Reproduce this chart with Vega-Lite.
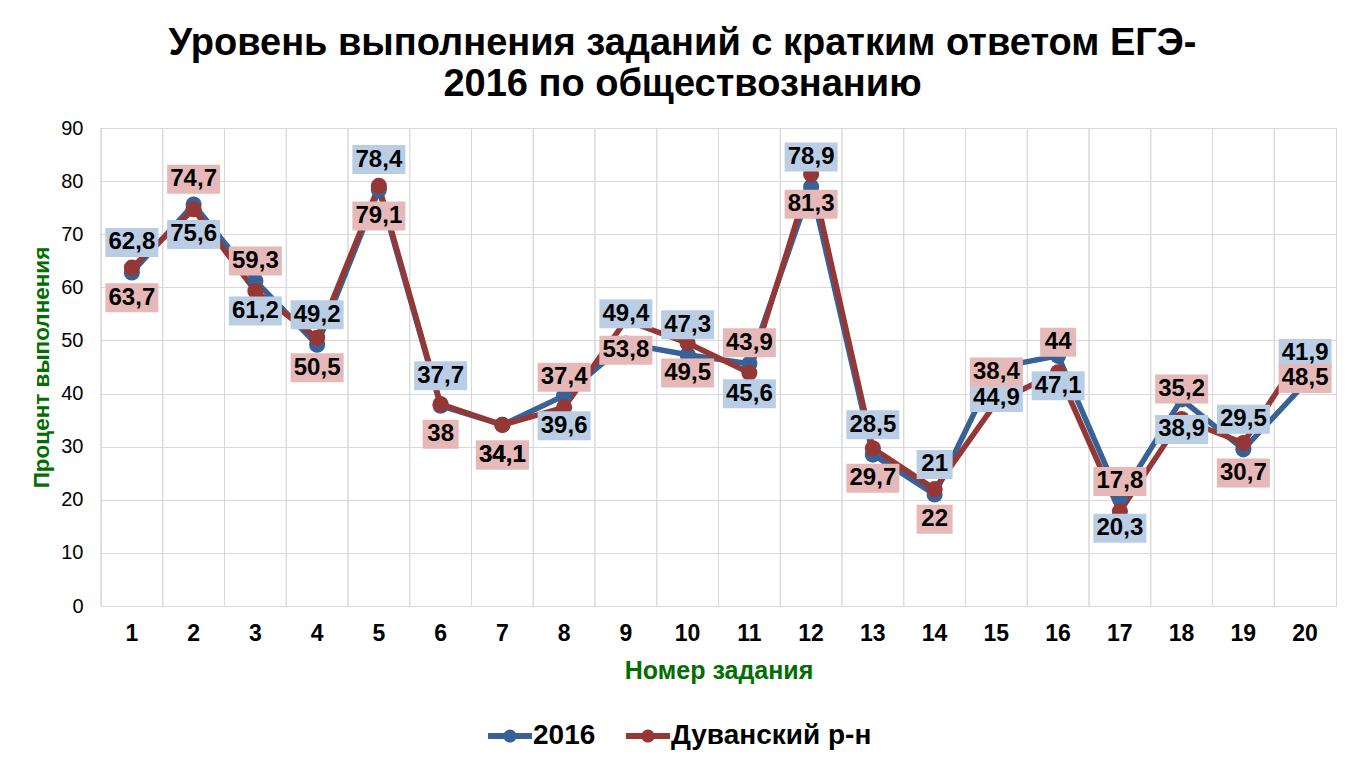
{
  "$schema": "https://vega.github.io/schema/vega-lite/v6.json",
  "autosize": {"type": "none"},
  "width": 1235,
  "height": 478,
  "padding": {"left": 101, "top": 128, "right": 24, "bottom": 164},
  "background": "white",
  "config": {
    "font": "Liberation Sans",
    "view": {"stroke": "#d9d9d9", "strokeWidth": 1}
  },
  "title": {
    "text": ["Уровень выполнения заданий с кратким ответом ЕГЭ-", "2016 по обществознанию"],
    "font": "Liberation Sans",
    "fontSize": 38,
    "fontWeight": "bold",
    "color": "black",
    "anchor": "middle",
    "dx": -36,
    "offset": 14,
    "lineHeight": 41
  },
  "data": {
    "values": [
      {"task": 1, "v2016": 62.8, "duvan": 63.7},
      {"task": 2, "v2016": 75.6, "duvan": 74.7},
      {"task": 3, "v2016": 61.2, "duvan": 59.3},
      {"task": 4, "v2016": 49.2, "duvan": 50.5},
      {"task": 5, "v2016": 78.4, "duvan": 79.1},
      {"task": 6, "v2016": 37.7, "duvan": 38},
      {"task": 7, "v2016": 34.1, "duvan": 34.1},
      {"task": 8, "v2016": 39.6, "duvan": 37.4},
      {"task": 9, "v2016": 49.4, "duvan": 53.8},
      {"task": 10, "v2016": 47.3, "duvan": 49.5},
      {"task": 11, "v2016": 45.6, "duvan": 43.9},
      {"task": 12, "v2016": 78.9, "duvan": 81.3},
      {"task": 13, "v2016": 28.5, "duvan": 29.7},
      {"task": 14, "v2016": 21, "duvan": 22},
      {"task": 15, "v2016": 44.9, "duvan": 38.4},
      {"task": 16, "v2016": 47.1, "duvan": 44},
      {"task": 17, "v2016": 20.3, "duvan": 17.8},
      {"task": 18, "v2016": 38.9, "duvan": 35.2},
      {"task": 19, "v2016": 29.5, "duvan": 30.7},
      {"task": 20, "v2016": 41.9, "duvan": 48.5}
    ]
  },
  "transform": [
    {"fold": ["v2016", "duvan"], "as": ["key", "value"]},
    {"calculate": "datum.key == 'v2016' ? '2016' : 'Дуванский р-н'", "as": "series"},
    {"calculate": "datum.key == 'v2016' ? (datum.v2016 >= datum.duvan) : (datum.duvan >= datum.v2016)", "as": "below"},
    {"calculate": "replace(toString(datum.value), '.', ',')", "as": "label"}
  ],
  "encoding": {
    "x": {
      "field": "task",
      "type": "ordinal",
      "scale": {"type": "band", "paddingInner": 0, "paddingOuter": 0},
      "axis": {
        "title": "Номер задания",
        "labelAngle": 0,
        "labelFontSize": 23,
        "labelFontWeight": "bold",
        "labelColor": "black",
        "labelPadding": 16,
        "ticks": false,
        "domain": false,
        "grid": false,
        "titleFontSize": 25,
        "titleFontWeight": "bold",
        "titleColor": "#006e00",
        "titlePadding": 13
      }
    }
  },
  "layer": [
    {
      "mark": {"type": "rule", "color": "#d9d9d9", "strokeWidth": 1},
      "encoding": {
        "x": {"field": "task", "type": "ordinal", "bandPosition": 0}
      }
    },
    {
      "mark": {"type": "line", "strokeWidth": 5.5},
      "encoding": {
        "y": {
          "field": "value",
          "type": "quantitative",
          "scale": {"domain": [0, 90]},
          "axis": {
            "title": "Процент выполнения",
            "values": [0, 10, 20, 30, 40, 50, 60, 70, 80, 90],
            "labelFontSize": 20,
            "labelColor": "black",
            "labelPadding": 18,
            "ticks": false,
            "domain": false,
            "gridColor": "#d9d9d9",
            "titleFontSize": 22.5,
            "titleFontWeight": "bold",
            "titleColor": "#006e00",
            "titlePadding": 7
          }
        },
        "color": {
          "field": "series",
          "type": "nominal",
          "scale": {"domain": ["2016", "Дуванский р-н"], "range": ["#386198", "#953735"]},
          "legend": {
            "title": null,
            "orient": "none",
            "direction": "horizontal",
            "legendX": 395,
            "legendY": 594,
            "padding": 0,
            "symbolType": "M-2,-0.27L2,-0.27L2,0.27L-2,0.27Z M0.6,0A0.6,0.6 0 1,1 -0.6,0A0.6,0.6 0 1,1 0.6,0Z",
            "symbolSize": 484,
            "symbolStrokeWidth": 0,
            "labelFontSize": 28,
            "labelFontWeight": "bold",
            "labelColor": "black",
            "labelOffset": 9,
            "labelLimit": 500,
            "columnPadding": 30,
            "encode": {
              "symbols": {
                "update": {
                  "fill": {"scale": "color", "field": "value"},
                  "stroke": {"value": "transparent"},
                  "opacity": {"value": 1}
                }
              }
            }
          }
        },
        "detail": {"field": "series"}
      }
    },
    {
      "mark": {"type": "point", "filled": true, "size": 260, "opacity": 1, "shape": "circle"},
      "encoding": {
        "y": {"field": "value", "type": "quantitative"},
        "color": {"field": "series", "type": "nominal"}
      }
    },
    {
      "mark": {"type": "point", "filled": true, "size": 900, "opacity": 1, "strokeWidth": 0},
      "encoding": {
        "y": {"field": "value", "type": "quantitative"},
        "fill": {
          "condition": {"test": "datum.key == 'v2016'", "value": "#B9CDE5"},
          "value": "#E6B9B8"
        },
        "shape": {
          "condition": [
            {"test": "datum.below && length(datum.label) <= 2", "value": "M-1.2,1.033L1.2,1.033L1.2,2.967L-1.2,2.967Z"},
            {"test": "datum.below", "value": "M-1.767,1.033L1.767,1.033L1.767,2.967L-1.767,2.967Z"},
            {"test": "length(datum.label) <= 2", "value": "M-1.2,-2.967L1.2,-2.967L1.2,-1.033L-1.2,-1.033Z"}
          ],
          "value": "M-1.767,-2.967L1.767,-2.967L1.767,-1.033L-1.767,-1.033Z"
        }
      }
    },
    {
      "transform": [{"filter": "!datum.below"}],
      "mark": {"type": "text", "dy": -30, "baseline": "middle", "fontSize": 24, "fontWeight": "bold", "color": "black"},
      "encoding": {
        "y": {"field": "value", "type": "quantitative"},
        "text": {"field": "label", "type": "nominal"}
      }
    },
    {
      "transform": [{"filter": "datum.below"}],
      "mark": {"type": "text", "dy": 30, "baseline": "middle", "fontSize": 24, "fontWeight": "bold", "color": "black"},
      "encoding": {
        "y": {"field": "value", "type": "quantitative"},
        "text": {"field": "label", "type": "nominal"}
      }
    }
  ]
}
